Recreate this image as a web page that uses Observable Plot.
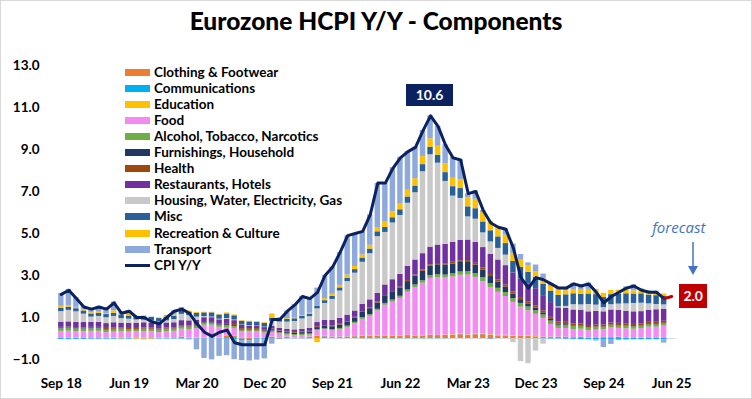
<!DOCTYPE html>
<html><head><meta charset="utf-8">
<script src="https://cdn.jsdelivr.net/npm/d3@7"></script>
<script src="https://cdn.jsdelivr.net/npm/@observablehq/plot@0.6"></script>
<style>
body{margin:0;background:#fff;font-family:Lato,"Open Sans",sans-serif;}
#wrap{position:relative;width:750px;height:397px;border:1px solid #d9d9d9;overflow:hidden;background:#fff;}
#chart{position:absolute;left:0;top:0;}
#title{position:absolute;left:0;top:5px;width:750px;text-align:center;font-weight:900;font-size:24.5px;color:#000;}
.sw{position:absolute;width:25px;height:7px;}
.lt{position:absolute;font-size:13.5px;font-weight:bold;color:#000;white-space:nowrap;line-height:16px;}
.box{position:absolute;color:#fff;font-weight:bold;font-size:14px;text-align:center;}
</style></head><body>
<div id="wrap"><div id="chart"></div><div id="title">Eurozone HCPI Y/Y - Components</div><div id="ann"></div></div>
<script>
const components = ["Clothing & Footwear","Communications","Education","Food","Alcohol, Tobacco, Narcotics","Furnishings, Household","Health","Restaurants, Hotels","Housing, Water, Electricity, Gas","Misc","Recreation & Culture","Transport"];
const colors = ["#ED7D31","#00B0F0","#FFC000","#F38BF2","#70AD47","#203864","#9E480E","#7030A0","#C9C9C9","#2A6099","#FFC000","#8EA9DB"];
const xTickLabels = ["Sep 18","Jun 19","Mar 20","Dec 20","Sep 21","Jun 22","Mar 23","Dec 23","Sep 24","Jun 25"];
const yTicks = [-1,1,3,5,7,9,11,13];

// contributions (pp), Sep 2018 .. May 2025
const clothing = [.03,.02,.02,.03,
 .03,.03,.02,.01,.02,.01,.00,.02,.03,.02,.02,.03,
 .05,.02,.01,.02,.04,.02,.10,.12,-.03,-.05,-.02,-.01,
 .06,-.03,.05,.02,.03,.05,.10,.08,.04,.05,.06,.08,
 .10,.10,.10,.12,.12,.10,.14,.12,.12,.15,.14,.15,
 .15,.18,.14,.18,.18,.15,.12,.12,.10,.12,.10,.08,
 .05,.06,.05,.05,.04,.05,.02,.03,.04,.04,.05,.03,
 .03,.02,.03,.03,.03];
const communications = [-.04,-.04,-.04,-.04,
 -.03,-.03,-.03,-.03,-.03,-.03,-.02,-.02,-.02,-.02,-.02,-.02,
 -.02,-.02,-.02,-.02,-.02,-.02,-.03,-.06,-.07,-.07,-.06,-.06,
 -.02,-.02,-.01,-.01,-.01,-.01,.01,.02,.02,.01,.01,.01,
 -.01,-.01,-.01,-.01,-.01,-.01,-.01,-.01,-.01,-.01,-.01,-.01,
 .01,.01,.01,.01,.01,.01,.01,.01,0,0,0,0,
 -.02,-.02,-.02,-.03,-.04,-.05,-.06,-.07,-.08,-.08,-.07,-.07,
 -.06,-.06,-.06,-.06,-.07];
const education = [.01,.01,.01,.01,
 .01,.01,.01,.01,.01,.01,.01,.01,.01,.01,.01,.01,
 .01,.01,.01,.01,.01,.01,.01,.01,.01,.01,.01,.01,
 .01,.01,.01,.01,.01,.01,.01,.01,.01,.01,.01,.01,
 .01,.01,.01,.01,.01,.01,.01,.01,.01,.01,.01,.01,
 .02,.02,.02,.02,.02,.02,.02,.02,.02,.02,.02,.02,
 .01,.01,.01,.01,.01,.01,.01,.01,.01,.01,.01,.01,
 .01,.01,.01,.01,.01];
const food = [.30,.32,.30,.28,
 .30,.30,.25,.28,.30,.28,.30,.30,.28,.25,.30,.30,
 .38,.40,.45,.60,.58,.50,.38,.35,.30,.30,.30,.25,
 .22,.20,.10,.10,.10,.10,.25,.30,.30,.35,.45,.60,
 .80,.95,1.20,1.45,1.60,1.80,2.05,2.30,2.50,2.70,2.75,2.72,
 2.75,2.80,2.85,2.70,2.50,2.25,2.05,1.85,1.60,1.35,1.20,1.05,
 .90,.60,.42,.42,.38,.38,.34,.36,.36,.45,.42,.42,
 .40,.44,.50,.50,.55];
const alcohol = [.12,.12,.12,.12,
 .12,.12,.12,.11,.11,.11,.10,.10,.10,.10,.10,.10,
 .10,.10,.10,.10,.10,.10,.12,.10,.08,.08,.08,.08,
 .07,.07,.06,.06,.06,.06,.05,.05,.05,.06,.06,.07,
 .08,.08,.08,.09,.10,.10,.11,.12,.12,.13,.14,.14,
 .15,.16,.17,.18,.18,.19,.19,.19,.18,.18,.18,.17,
 .16,.16,.15,.15,.14,.13,.13,.13,.12,.12,.12,.12,
 .11,.11,.11,.11,.11];
const furnishings = [.02,.02,.02,.02,
 .02,.02,.03,.03,.02,.02,.02,.02,.02,.02,.02,.02,
 .02,.02,.03,.03,.03,.03,.05,.04,.03,.03,.03,.03,
 .06,.05,.06,.07,.08,.09,.10,.12,.14,.16,.18,.20,
 .25,.28,.30,.33,.36,.38,.40,.42,.45,.46,.47,.48,
 .47,.45,.43,.40,.36,.33,.30,.26,.22,.18,.15,.13,
 .10,.08,.05,.04,.03,.03,.02,.02,.02,.02,.02,.02,
 .02,.02,.02,.02,.02];
const health = [.05,.05,.05,.05,
 .05,.05,.05,.05,.05,.05,.05,.05,.05,.05,.05,.05,
 .05,.05,.05,.05,.05,.05,.05,.05,.05,.05,.05,.05,
 .03,.03,.03,.03,.03,.03,.04,.04,.04,.04,.04,.04,
 .04,.04,.04,.05,.05,.05,.05,.05,.06,.06,.06,.06,
 .08,.08,.09,.09,.10,.10,.10,.10,.10,.10,.10,.10,
 .10,.10,.10,.10,.10,.10,.10,.10,.10,.10,.10,.10,
 .10,.10,.10,.10,.10];
const restaurants = [.25,.25,.25,.25,
 .24,.24,.23,.26,.22,.24,.25,.25,.25,.24,.24,.24,
 .24,.24,.22,.18,.18,.18,.20,.18,.15,.12,.10,.10,
 .12,.12,.12,.12,.12,.15,.20,.25,.26,.28,.30,.30,
 .35,.38,.42,.50,.56,.62,.68,.72,.78,.84,.88,.92,
 .95,.97,.98,1.00,.98,.95,.95,.92,.90,.88,.85,.82,
 .72,.70,.68,.66,.66,.65,.65,.64,.62,.62,.62,.60,
 .60,.58,.58,.60,.58];
const housing = [.50,.55,.50,.40,
 .25,.28,.28,.30,.22,.20,.15,.12,.10,.10,.10,.15,
 .30,.25,.15,.05,.03,.03,.04,.03,.02,.02,.02,.02,
 .25,.30,.35,.40,.50,.55,.65,.80,1.00,1.30,1.60,1.80,
 2.00,2.20,2.70,2.50,2.70,2.80,3.00,3.20,3.90,4.40,3.90,3.00,
 2.20,2.00,1.10,1.10,.70,.60,.55,.50,-.20,-1.10,-1.20,-.60,
 -.25,.00,.05,.10,.25,.25,.35,.30,.20,.25,.30,.35,
 .40,.40,.30,.25,.20];
const misc = [.15,.15,.15,.15,
 .15,.15,.15,.15,.15,.15,.16,.16,.16,.16,.17,.17,
 .17,.17,.18,.18,.20,.20,.22,.20,.18,.18,.18,.18,
 .15,.15,.14,.13,.12,.12,.12,.13,.14,.15,.16,.17,
 .20,.22,.23,.24,.25,.27,.30,.32,.34,.36,.38,.42,
 .45,.47,.48,.50,.52,.53,.55,.55,.55,.55,.55,.55,
 .55,.55,.55,.55,.52,.50,.50,.50,.48,.48,.48,.48,
 .45,.45,.42,.42,.40];
const recreation = [.10,.08,.06,.08,
 .06,.05,.03,.12,-.03,.08,-.04,-.05,-.04,.03,.03,.05,
 .05,.05,.04,.03,.03,.03,.05,.04,.03,.03,.03,.03,
 .20,.05,.03,.06,.05,.04,-.20,.10,.10,.12,.15,.15,
 .15,.18,.20,.25,.28,.30,.32,.35,.38,.40,.42,.42,
 .40,.42,.42,.45,.45,.45,.42,.40,.38,.35,.30,.25,
 .25,.22,.25,.20,.20,.20,.22,.25,.20,.20,.18,.18,
 .15,.15,.15,.20,.12];
const transport = [.61,.77,.46,.15,
 .20,.28,.27,.42,.14,.18,.02,.04,.02,.00,.05,.20,
 .10,-.05,-.52,-.93,-1.00,-.83,-.79,-.95,-.95,-.95,-.95,-.90,
 -.25,.02,.36,.61,.91,.71,.87,1.10,1.30,1.57,1.88,1.57,
 1.10,1.45,2.10,1.85,2.10,2.20,1.85,1.50,1.25,1.10,.95,.90,
 1.00,.95,.20,.40,.10,-.05,.05,.30,.45,.27,.15,.33,
 .23,.14,.11,.15,.30,.25,.30,-.05,-.35,-.20,-.03,.15,
 .29,.08,.04,.02,-.15];
// headline HICP y/y, Sep 2018 .. Jun 2025 (last value = forecast)
const cpi = [2.1,2.3,1.9,1.5,
 1.4,1.5,1.4,1.7,1.2,1.3,1.0,1.0,0.8,0.7,1.0,1.3,
 1.4,1.2,0.7,0.3,0.1,0.3,0.4,-0.2,-0.3,-0.3,-0.3,-0.3,
 0.9,0.9,1.3,1.6,2.0,1.9,2.2,3.0,3.4,4.1,4.9,5.0,
 5.1,5.9,7.4,7.4,8.1,8.6,8.9,9.1,9.9,10.6,10.1,9.2,
 8.6,8.5,6.9,7.0,6.1,5.5,5.3,5.2,4.3,2.9,2.4,2.9,
 2.8,2.6,2.4,2.4,2.6,2.5,2.6,2.2,1.7,2.0,2.2,2.4,
 2.5,2.3,2.2,2.2,1.9,2.0];

const series = [clothing,communications,education,food,alcohol,furnishings,health,restaurants,housing,misc,recreation,transport];
const fmtM = d3.utcFormat("%b %y");
const months = d3.utcMonth.range(new Date(Date.UTC(2018,8,1)), new Date(Date.UTC(2025,6,1))).map(fmtM);

const bars = [];
components.forEach((c, i) => series[i].forEach((v, j) => bars.push({month: months[j], comp: c, value: v})));
const cpiRows = cpi.map((v, j) => ({month: months[j], v}));
const actual = cpiRows.slice(0, cpiRows.length - 1);
const fc = cpiRows.slice(cpiRows.length - 2);

const plot = Plot.plot({
  width: 750, height: 397,
  marginLeft: 55, marginRight: 75, marginTop: 64, marginBottom: 39,
  x: {type: "band", domain: months, padding: 0.28, ticks: xTickLabels, tickSize: 0, tickPadding: 19, label: null},
  y: {domain: [-1, 13], ticks: yTicks, tickFormat: d3.format(".1f"), tickSize: 0, tickPadding: 17, label: null},
  color: {domain: components, range: colors},
  style: {fontFamily: "Lato, sans-serif", fontSize: "13.5px", fontWeight: "bold", color: "#000", background: "transparent", overflow: "visible"},
  marks: [
    Plot.ruleY([0], {stroke: "#d6dce5", strokeWidth: 1}),
    Plot.barY(bars, {x: "month", y: "value", fill: "comp", order: components}),
    Plot.line(actual, {x: "month", y: "v", stroke: "#0B2160", strokeWidth: 3}),
    Plot.line(fc, {x: "month", y: "v", stroke: "#C00000", strokeWidth: 3})
  ]
});
document.getElementById("chart").appendChild(plot);

const ann = document.getElementById("ann");
function add(html){ ann.insertAdjacentHTML("beforeend", html); }
// legend
components.forEach((c, i) => {
  const y = 71 + i * 16.1;
  add(`<div class="sw" style="left:124px;top:${y-3.5}px;background:${colors[i]}"></div>`);
  add(`<div class="lt" style="left:153px;top:${y-8.5}px">${c}</div>`);
});
{
  const y = 71 + 12 * 16.1;
  add(`<div class="sw" style="left:124px;top:${y-1.5}px;height:3px;background:#0B2160"></div>`);
  add(`<div class="lt" style="left:153px;top:${y-8.5}px">CPI Y/Y</div>`);
}
// annotations positioned through the plot's scales
const xs = plot.scale("x"), ys = plot.scale("y");
const bw = xs.bandwidth;
const iMax = d3.maxIndex(cpi);
const px = xs.apply(months[iMax]) + bw / 2, py = ys.apply(cpi[iMax]);
add(`<div class="box" style="left:${px-24}px;top:${py-31}px;width:47px;height:22px;line-height:22px;background:#0B2160">${cpi[iMax].toFixed(1)}</div>`);
const last = cpi.length - 1;
const lx = xs.apply(months[last]) + bw / 2, ly = ys.apply(cpi[last]);
add(`<div class="box" style="left:${lx+8}px;top:${ly-12}px;width:28px;height:24px;line-height:24px;background:#C00000">${cpi[last].toFixed(1)}</div>`);
add(`<div style="position:absolute;left:${lx-19}px;top:${ly-79}px;font-family:'Open Sans',sans-serif;font-style:italic;font-size:15px;color:#4472C4">forecast</div>`);
add(`<svg style="position:absolute;left:${lx+15}px;top:${ly-54}px" width="14" height="34"><line x1="7" y1="0" x2="7" y2="26" stroke="#4472C4" stroke-width="1.5"/><path d="M2,24 L7,33 L12,24 Z" fill="#4472C4"/></svg>`);
</script></body></html>
